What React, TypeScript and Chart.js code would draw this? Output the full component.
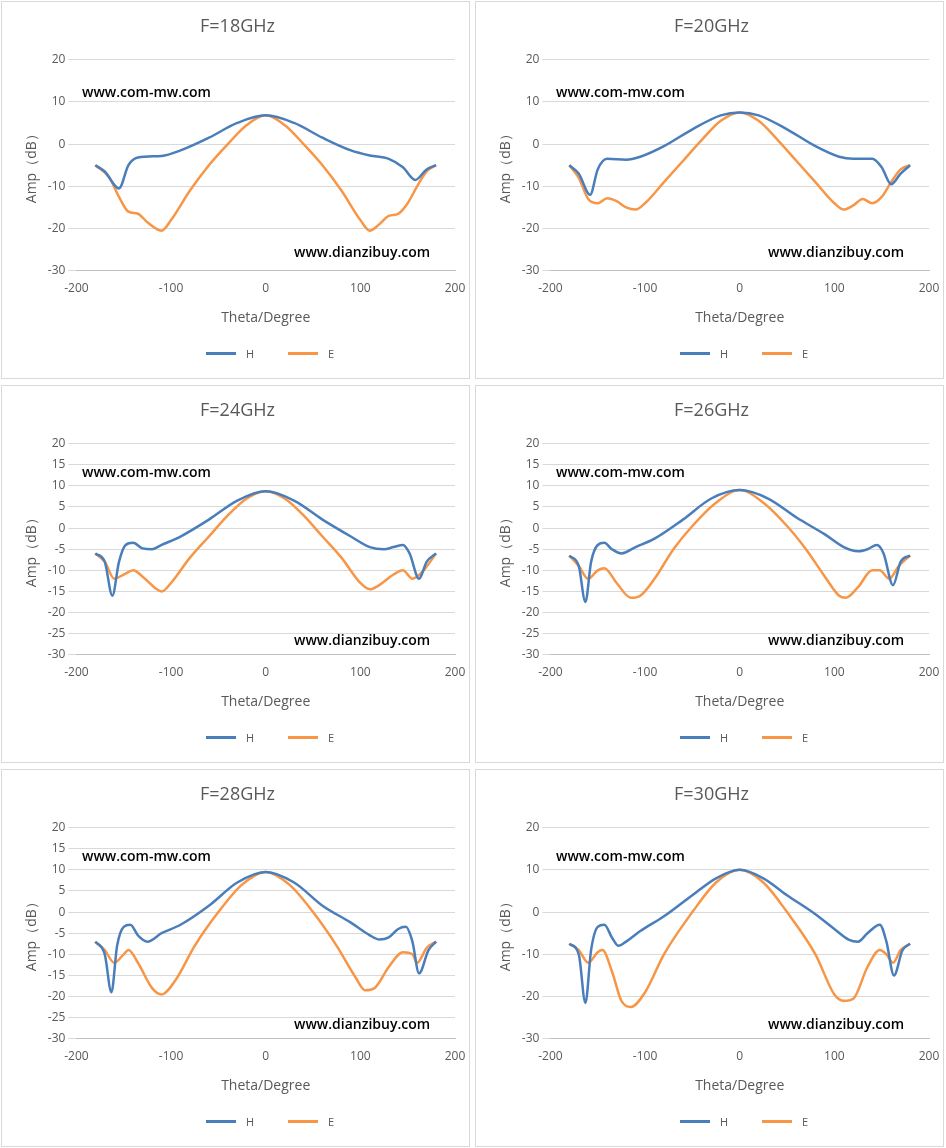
import React, { useEffect, useRef } from "react";
import { Chart, registerables } from "chart.js";
Chart.register(...registerables);

const titles = ["F=18GHz", "F=20GHz", "F=24GHz", "F=26GHz", "F=28GHz", "F=30GHz"];
const yStepSizes = [10, 10, 5, 5, 5, 10];
const seriesNames = ["H", "E"];
const seriesColors = ["#4a7ebb", "#f79646"];

const h18T = [-180, -170, -155, -145, -135, -110, -90, -60, -30, 0, 30, 60, 90, 110, 130, 145, 158, 170, 180];
const h18V = [-5, -6.5, -10.5, -5, -3.2, -2.8, -1.5, 1.5, 5, 6.8, 5, 1.5, -1.5, -2.7, -3.5, -5.5, -8.5, -6, -5];
const e18T = [-180, -165, -155, -145, -135, -125, -110, -100, -80, -60, -40, -20, 0, 20, 40, 60, 80, 100, 110, 120, 130, 140, 150, 160, 170, 180];
const e18V = [-5, -8, -12.5, -16, -16.5, -18.5, -20.5, -18, -11, -5, 0, 4.5, 6.8, 4.5, 0, -5, -11, -18, -20.5, -19, -17, -16.5, -14, -10, -6.5, -5];

const h20T = [-180, -170, -158, -150, -140, -120, -105, -80, -50, -20, 0, 20, 50, 80, 105, 120, 140, 150, 160, 170, 180];
const h20V = [-5, -7, -12, -6, -3.5, -3.7, -3, -0.5, 3.5, 6.8, 7.5, 6.8, 3.5, -0.5, -3, -3.5, -3.5, -5.5, -9.5, -7, -5];
const e20T = [-180, -170, -160, -150, -140, -130, -120, -110, -100, -80, -60, -40, -20, 0, 20, 40, 60, 80, 100, 110, 120, 130, 140, 150, 160, 170, 180];
const e20V = [-5, -8, -13, -14, -12.8, -13.5, -15, -15.5, -14, -9, -4, 1, 5.5, 7.5, 5.5, 1, -4, -9, -14, -15.5, -14.5, -13, -14, -12.5, -9, -6, -5];

const h24T = [-180, -170, -162, -155, -148, -140, -130, -120, -110, -90, -60, -30, 0, 30, 60, 90, 110, 125, 135, 145, 152, 162, 170, 180];
const h24V = [-6, -8, -16, -8, -4, -3.5, -4.8, -5, -4, -2, 2, 6.5, 8.7, 6.5, 2, -2, -4.5, -5, -4.5, -4, -6, -12, -8, -6];
const e24T = [-180, -170, -160, -150, -140, -130, -115, -110, -100, -80, -60, -40, -20, 0, 20, 40, 60, 80, 100, 110, 120, 135, 145, 155, 165, 180];
const e24V = [-6, -8, -12, -11, -10, -11.5, -14.5, -15, -13, -7, -2, 3, 7, 8.7, 7, 3, -2, -7, -13, -14.5, -13.5, -11, -10, -12, -10.5, -6];

const h26T = [-180, -170, -163, -157, -150, -143, -135, -125, -110, -90, -60, -30, 0, 30, 60, 90, 110, 125, 135, 145, 152, 162, 170, 180];
const h26V = [-6.5, -9, -17.5, -8, -4, -3.5, -5, -6, -4.5, -2.5, 2, 7, 9, 7, 2.5, -1.5, -4.5, -5.5, -5, -4, -6, -13.5, -8, -6.5];
const e26T = [-180, -170, -160, -150, -143, -130, -115, -105, -90, -70, -50, -25, 0, 25, 50, 70, 90, 105, 112, 125, 140, 148, 158, 168, 180];
const e26V = [-6.5, -9, -12, -10, -9.5, -13, -16.5, -16, -12, -5, 0.5, 6, 9, 6, 0.5, -5, -11.5, -16, -16.5, -14, -10, -10, -12, -9, -6.5];

const h28T = [-180, -170, -163, -157, -150, -143, -135, -125, -110, -90, -60, -30, 0, 30, 60, 90, 110, 120, 130, 140, 148, 155, 162, 172, 180];
const h28V = [-7, -10, -19, -8, -3.5, -3, -5.5, -7, -5, -3, 1.5, 7, 9.5, 7, 1.5, -2.5, -5.5, -6.5, -6, -4, -3.5, -7, -14.5, -9, -7];
const e28T = [-180, -170, -160, -150, -145, -135, -120, -110, -95, -75, -50, -25, 0, 25, 50, 75, 95, 105, 115, 130, 145, 155, 160, 170, 180];
const e28V = [-7, -9, -12, -10, -9, -12, -18, -19.5, -16, -8, 0, 6.5, 9.5, 6.5, 0, -8, -15.5, -18.5, -18, -13, -9.5, -10, -12, -8.5, -7];

const h30T = [-180, -170, -163, -157, -150, -143, -135, -128, -120, -105, -80, -50, -25, 0, 25, 50, 80, 100, 115, 125, 135, 148, 155, 163, 172, 180];
const h30V = [-7.5, -10, -21.5, -9, -3.5, -3, -6, -8, -7, -4.5, -1, 4, 8, 10, 8, 4, -0.5, -4, -6.5, -7, -5, -3, -7, -15, -9, -7.5];
const e30T = [-180, -170, -160, -150, -145, -135, -125, -115, -100, -80, -50, -25, 0, 25, 50, 80, 100, 110, 120, 135, 148, 155, 162, 170, 180];
const e30V = [-7.5, -9, -12, -9.5, -9, -14, -21, -22.5, -19, -10, 0, 7, 10, 7, 0, -10, -19.5, -21, -20.5, -13, -9, -10, -12, -9, -7.5];

const panels = [
  [h18T, h18V, e18T, e18V],
  [h20T, h20V, e20T, e20V],
  [h24T, h24V, e24T, e24V],
  [h26T, h26V, e26T, e26V],
  [h28T, h28V, e28T, e28V],
  [h30T, h30V, e30T, e30V],
];

const FONT = "'Open Sans', 'Liberation Sans', sans-serif";

function Panel({ idx }: { idx: number }) {
  const ref = useRef<HTMLCanvasElement>(null);
  useEffect(() => {
    const [hT, hV, eT, eV] = panels[idx];
    const mk = (t: number[], v: number[]) => t.map((x, i) => ({ x, y: v[i] }));
    const chart = new Chart(ref.current!, {
      type: "line",
      data: {
        datasets: [
          { label: seriesNames[0], data: mk(hT, hV), borderColor: seriesColors[0], backgroundColor: seriesColors[0], borderWidth: 2.5, pointRadius: 0, cubicInterpolationMode: "monotone" },
          { label: seriesNames[1], data: mk(eT, eV), borderColor: seriesColors[1], backgroundColor: seriesColors[1], borderWidth: 2.5, pointRadius: 0, cubicInterpolationMode: "monotone" },
        ],
      },
      options: {
        animation: false,
        responsive: false,
        layout: { padding: { left: 18, right: 14, top: 6, bottom: 52 } },
        plugins: {
          title: { display: true, text: titles[idx], color: "#595959", font: { family: FONT, size: 18, weight: "normal" }, padding: { top: 8, bottom: 22 } },
          legend: { display: false },
          tooltip: { enabled: false },
        },
        scales: {
          x: {
            type: "linear", min: -200, max: 200,
            ticks: { stepSize: 100, color: "#595959", font: { family: FONT, size: 12 } },
            grid: { display: false },
            border: { color: "#bfbfbf" },
            title: { display: true, text: "Theta/Degree", color: "#595959", font: { family: FONT, size: 14 }, padding: { top: 10, bottom: 0 } },
          },
          y: {
            min: -30, max: 20,
            ticks: { stepSize: yStepSizes[idx], autoSkip: false, color: "#595959", font: { family: FONT, size: 12 } },
            grid: { color: "#d9d9d9" },
            border: { display: false },
            title: { display: true, text: "Amp（dB）", color: "#595959", font: { family: FONT, size: 14 } },
          },
        },
      },
    });
    return () => chart.destroy();
  }, [idx]);
  const col = idx % 2, row = Math.floor(idx / 2);
  return (
    <div style={{ position: "absolute", left: 1 + col * 474, top: 1 + row * 384, width: 469, height: 378, border: "1px solid #d9d9d9", boxSizing: "border-box", background: "#fff" }}>
      <canvas ref={ref} width={467} height={376} style={{ display: "block" }} />
      <div style={{ position: "absolute", left: 80, top: idx < 2 ? 80 : 76, fontFamily: FONT, fontWeight: 600, fontSize: 14, color: "#000" }}>www.com-mw.com</div>
      <div style={{ position: "absolute", left: 292, top: idx < 2 ? 240 : 244, fontFamily: FONT, fontWeight: 600, fontSize: 14, color: "#000" }}>www.dianzibuy.com</div>
      {seriesNames.map((n, i) => (
        <div key={n} style={{ position: "absolute", left: 204 + i * 82, top: 344, display: "flex", alignItems: "center", fontFamily: FONT, fontSize: 11, color: "#595959" }}>
          <span style={{ display: "inline-block", width: 30, height: 3, background: seriesColors[i], marginRight: 10 }} />
          {n}
        </div>
      ))}
    </div>
  );
}

export default function App() {
  return (
    <div style={{ position: "absolute", left: 0, top: 0, width: 946, height: 1148, background: "#fff" }}>
      {titles.map((_, i) => <Panel key={i} idx={i} />)}
    </div>
  );
}
